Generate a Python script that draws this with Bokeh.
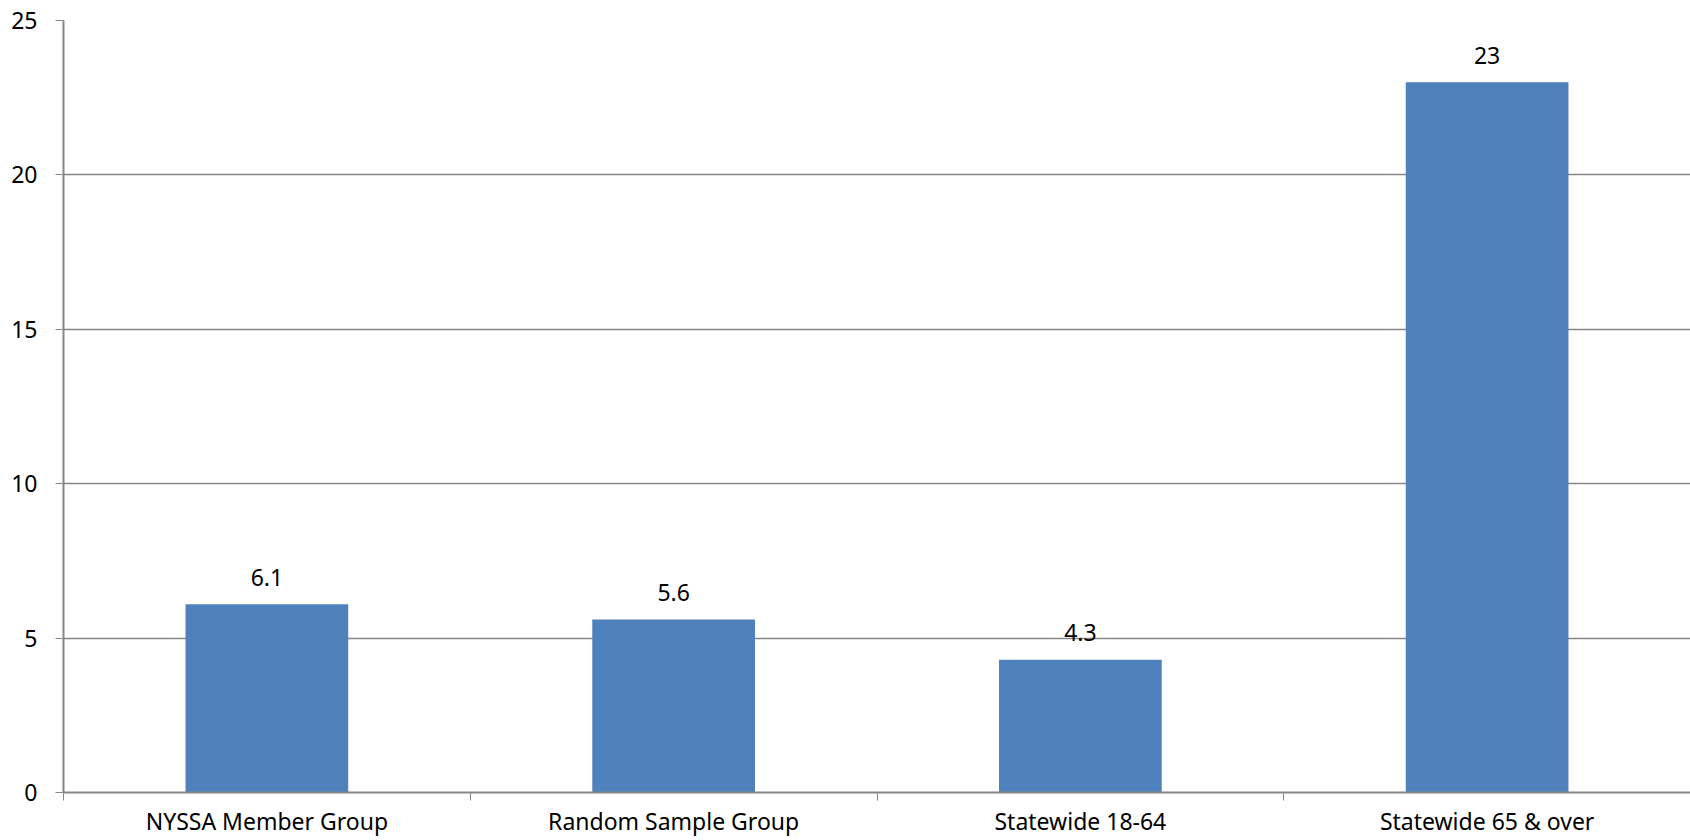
from bokeh.plotting import figure
from bokeh.models import FixedTicker, ColumnDataSource, LabelSet
from bokeh.core.properties import value
from bokeh.embed import file_html
from bokeh.resources import INLINE

categories = ["NYSSA Member Group", "Random Sample Group", "Statewide 18-64", "Statewide 65 & over"]
values = [6.1, 5.6, 4.3, 23]
value_labels = ["6.1", "5.6", "4.3", "23"]
y_ticks = [0, 5, 10, 15, 20, 25]

FONT = "Noto Sans"
FS = "23px"
GRID = "#868686"

xs = [i + 0.5 for i in range(len(categories))]
src = ColumnDataSource(dict(x=xs, top=values, lab=value_labels))

p = figure(width=1690, height=840, output_backend="svg", toolbar_location=None,
           x_range=(0, len(categories)), y_range=(0, 25),
           min_border_left=63, min_border_right=0, min_border_top=20, min_border_bottom=48)
p.outline_line_color = None
p.background_fill_color = "white"
p.border_fill_color = "white"

p.vbar(x="x", top="top", width=0.4, bottom=0, source=src, fill_color="#4F81BD", line_color=None)

labels = LabelSet(x="x", y="top", text="lab", source=src, text_align="center", text_baseline="middle",
                  y_offset=27, text_font=value(FONT), text_font_size=value(FS), text_color="black")
p.add_layout(labels)

# x axis: labels at category centres, ticks at category boundaries
p.xaxis.ticker = FixedTicker(ticks=xs, minor_ticks=list(range(len(categories) + 1)))
p.xaxis.major_label_overrides = {x: c for x, c in zip(xs, categories)}
p.xaxis.major_tick_out = 0
p.xaxis.major_tick_in = 0
p.xaxis.minor_tick_out = 8
p.xaxis.minor_tick_in = 0
p.xaxis.minor_tick_line_color = GRID
p.xaxis.axis_line_color = GRID
p.xaxis.axis_line_width = 2
p.xaxis.major_label_text_font = FONT
p.xaxis.major_label_text_font_size = FS
p.xaxis.major_label_text_color = "black"
p.xaxis.major_label_standoff = 4

p.yaxis.ticker = FixedTicker(ticks=y_ticks, minor_ticks=[])
p.yaxis.major_tick_out = 8
p.yaxis.major_tick_in = 0
p.yaxis.major_tick_line_color = GRID
p.yaxis.axis_line_color = GRID
p.yaxis.axis_line_width = 2
p.yaxis.major_label_text_font = FONT
p.yaxis.major_label_text_font_size = FS
p.yaxis.major_label_text_color = "black"
p.yaxis.major_label_standoff = 18

p.xgrid.grid_line_color = None
p.ygrid.grid_line_color = GRID
p.ygrid.grid_line_width = 1.5
p.ygrid.ticker = FixedTicker(ticks=y_ticks)

open("out.html", "w").write(file_html(p, INLINE))
